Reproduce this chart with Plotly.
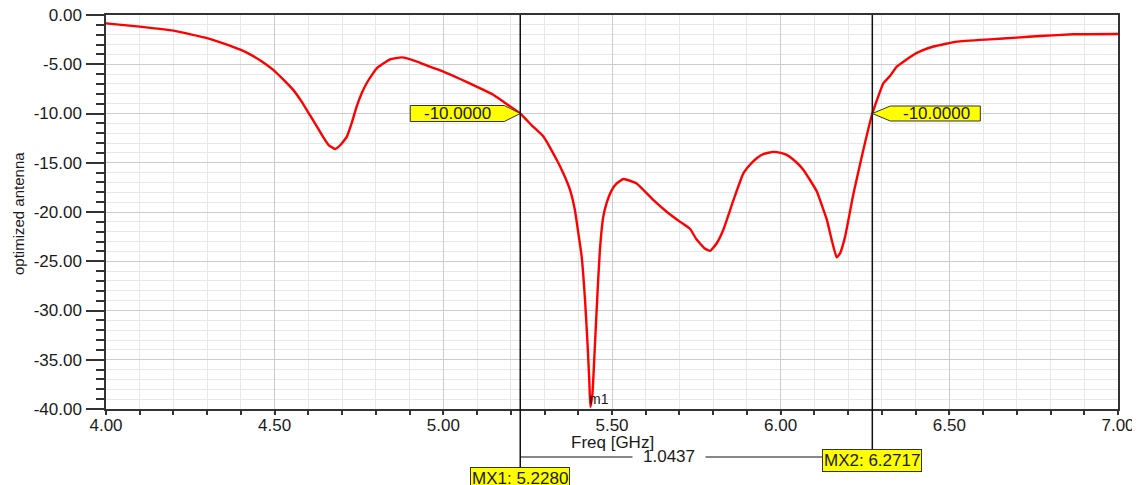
import plotly.graph_objects as go

# ---------------- data ----------------
FREQ_GHZ = [4.00, 4.10, 4.20, 4.30, 4.35, 4.40, 4.43, 4.4565, 4.50, 4.555, 4.58, 4.605,
            4.625, 4.643, 4.66, 4.679, 4.695, 4.714, 4.728, 4.743, 4.758, 4.773, 4.79,
            4.803, 4.842, 4.877, 4.92, 4.96, 5.00, 5.05, 5.10, 5.148, 5.18, 5.228, 5.262,
            5.297, 5.336, 5.356, 5.376, 5.39, 5.40, 5.41, 5.42, 5.428, 5.433, 5.436, 5.442,
            5.448, 5.456, 5.464, 5.474, 5.484, 5.499, 5.514, 5.534, 5.573, 5.623, 5.662,
            5.702, 5.731, 5.751, 5.775, 5.791, 5.81, 5.83, 5.86, 5.889, 5.909, 5.929, 5.95,
            5.978, 6.00, 6.018, 6.048, 6.067, 6.087, 6.107, 6.127, 6.137, 6.151, 6.166,
            6.176, 6.191, 6.216, 6.245, 6.2717, 6.305, 6.324, 6.344, 6.37, 6.393, 6.42,
            6.453, 6.522, 6.62, 6.70, 6.769, 6.868, 7.00]
S11_DB = [-0.85, -1.18, -1.59, -2.35, -2.9, -3.55, -4.05, -4.6, -5.7, -7.6, -8.8, -10.2,
          -11.3, -12.35, -13.2, -13.6, -13.2, -12.35, -11.0, -9.3, -7.95, -6.9, -6.0,
          -5.4, -4.5, -4.3, -4.7, -5.25, -5.75, -6.5, -7.3, -8.1, -8.85, -10.0, -11.2,
          -12.35, -14.7, -16.1, -17.8, -19.8, -22.1, -24.5, -28.9, -33.7, -37.4, -39.8, -38.5,
          -34.5, -28.9, -23.9, -20.5, -19.1, -17.8, -17.1, -16.65, -17.1, -18.8, -19.97,
          -21.0, -21.7, -22.8, -23.7, -23.95, -23.2, -21.8, -18.8, -16.1, -15.2, -14.55, -14.1,
          -13.9, -14.0, -14.2, -15.0, -15.7, -16.75, -17.9, -19.8, -20.8, -22.8, -24.6,
          -24.2, -22.5, -18.1, -13.7, -10.0, -6.9, -6.2, -5.25, -4.6, -4.06, -3.6,
          -3.2, -2.7, -2.47, -2.3, -2.13, -1.96, -1.93]

X_TICKS = [4.00, 4.50, 5.00, 5.50, 6.00, 6.50, 7.00]
Y_TICKS = [0.00, -5.00, -10.00, -15.00, -20.00, -25.00, -30.00, -35.00, -40.00]

MARKER_X = [5.2280, 6.2717]          # MX1, MX2
MARKER_NAMES = ["MX1", "MX2"]
MARKER_LEVEL = -10.0
DELTA_X = 1.0437
M1_POINT = (5.436, -39.8)

# ---------------- figure ----------------
FONT = "Liberation Sans, Arial, sans-serif"
TXT = "#1a1a1a"
FS = 17

fig = go.Figure()
fig.add_trace(go.Scatter(x=FREQ_GHZ, y=S11_DB, mode="lines",
                         line=dict(color="#ff0000", width=2.4, shape="spline", smoothing=0.4),
                         hoverinfo="x+y", showlegend=False))

# page body has an 8px margin; the plot area sits at window px x 106..1118, y 15..409
PLOT_H = 394


def py2paper(py):
    return (409 - py) / PLOT_H


shapes = []
for xv in X_TICKS:
    shapes.append(dict(type="line", xref="x", yref="paper", x0=xv, x1=xv,
                       y0=0, y1=-6 / PLOT_H, line=dict(color="#333333", width=1.5)))
shapes.append(dict(type="line", xref="x", yref="paper", x0=MARKER_X[0], x1=MARKER_X[0],
                   y0=1, y1=py2paper(467), line=dict(color="#111111", width=1.5), layer="above"))
shapes.append(dict(type="line", xref="x", yref="paper", x0=MARKER_X[1], x1=MARKER_X[1],
                   y0=1, y1=py2paper(449), line=dict(color="#111111", width=1.5), layer="above"))
shapes.append(dict(type="line", xref="x", yref="paper", x0=MARKER_X[0], x1=MARKER_X[1],
                   y0=py2paper(457), y1=py2paper(457), line=dict(color="#111111", width=1),
                   layer="above"))
shapes.append(dict(type="path", xref="x", yref="y", xsizemode="pixel", ysizemode="pixel",
                   xanchor=MARKER_X[0], yanchor=MARKER_LEVEL,
                   path="M -110,-8 L -16,-8 L 0,0 L -16,8 L -110,8 Z",
                   fillcolor="#ffff00", line=dict(color="#333333", width=1), layer="above"))
shapes.append(dict(type="path", xref="x", yref="y", xsizemode="pixel", ysizemode="pixel",
                   xanchor=MARKER_X[1], yanchor=MARKER_LEVEL,
                   path="M 0,0 L 18,-7.5 L 108,-7.5 L 108,7.5 L 18,7.5 Z",
                   fillcolor="#ffff00", line=dict(color="#333333", width=1), layer="above"))

annotations = []
annotations.append(dict(x=MARKER_X[0], y=MARKER_LEVEL, xref="x", yref="y", xshift=-63,
                        text=f"{MARKER_LEVEL:.4f}", showarrow=False,
                        font=dict(family=FONT, size=FS, color=TXT)))
annotations.append(dict(x=MARKER_X[1], y=MARKER_LEVEL, xref="x", yref="y", xshift=64,
                        text=f"{MARKER_LEVEL:.4f}", showarrow=False,
                        font=dict(family=FONT, size=FS, color=TXT)))
annotations.append(dict(x=MARKER_X[0], y=py2paper(467), xref="x", yref="paper",
                        xanchor="center", yanchor="top",
                        text=f"{MARKER_NAMES[0]}: {MARKER_X[0]:.4f}", showarrow=False,
                        bgcolor="#ffff00", bordercolor="#333333", borderwidth=1, borderpad=1,
                        font=dict(family=FONT, size=FS, color=TXT)))
annotations.append(dict(x=MARKER_X[1], y=py2paper(449), xref="x", yref="paper",
                        xanchor="center", yanchor="top",
                        text=f"{MARKER_NAMES[1]}: {MARKER_X[1]:.4f}", showarrow=False,
                        bgcolor="#ffff00", bordercolor="#333333", borderwidth=1, borderpad=1,
                        font=dict(family=FONT, size=FS, color=TXT)))
annotations.append(dict(x=(MARKER_X[0] + MARKER_X[1]) / 2, y=py2paper(457), xref="x",
                        yref="paper", text=f"{DELTA_X:.4f}", showarrow=False, xshift=-27,
                        bgcolor="#ffffff", borderpad=0, xanchor="center", yanchor="middle",
                        font=dict(family=FONT, size=FS, color=TXT),
                        width=72, align="center"))
annotations.append(dict(x=M1_POINT[0], y=M1_POINT[1], xref="x", yref="y",
                        xanchor="left", yanchor="bottom", xshift=-3, yshift=-2,
                        text="m1", showarrow=False,
                        font=dict(family=FONT, size=14, color=TXT)))
annotations.append(dict(x=0.5, y=py2paper(442), xref="paper", yref="paper",
                        text="Freq [GHz]", showarrow=False, yanchor="middle",
                        font=dict(family=FONT, size=FS, color=TXT)))
annotations.append(dict(x=(18 - 106) / 1012, y=py2paper(214), xref="paper", yref="paper",
                        text="optimized antenna", showarrow=False, textangle=-90,
                        xanchor="center", yanchor="middle",
                        font=dict(family=FONT, size=15, color=TXT)))

fig.update_layout(
    width=1132, height=477,
    margin=dict(l=98, r=22, t=7, b=76, autoexpand=False),
    paper_bgcolor="white", plot_bgcolor="white",
    font=dict(family=FONT, size=FS, color=TXT),
    shapes=shapes, annotations=annotations,
    showlegend=False,
    xaxis=dict(range=[4, 7], tickvals=X_TICKS, ticktext=[f"{v:.2f}" for v in X_TICKS],
               automargin=False, ticklabeloverflow="allow",
               ticks="outside", ticklen=0, tickwidth=1.5, tickcolor="#333333",
               showline=True, linecolor="#333333", linewidth=1.5, mirror=True,
               showgrid=True, gridcolor="#cccccc", gridwidth=1, zeroline=False,
               tickfont=dict(family=FONT, size=FS, color=TXT),
               minor=dict(dtick=0.1, tick0=4, ticks="outside", ticklen=4, tickwidth=1.5,
                          tickcolor="#333333", showgrid=True, gridcolor="#e8e8e8",
                          gridwidth=1)),
    yaxis=dict(range=[-40, 0], tickvals=Y_TICKS, ticktext=[f"{v:.2f}" for v in Y_TICKS],
               automargin=False, ticklabelstandoff=1, ticklabeloverflow="allow",
               ticks="outside", ticklen=18, tickwidth=1.5, tickcolor="#333333",
               showline=True, linecolor="#333333", linewidth=1.5, mirror=True,
               showgrid=True, gridcolor="#cccccc", gridwidth=1, zeroline=False,
               tickfont=dict(family=FONT, size=FS, color=TXT),
               minor=dict(dtick=1, tick0=0, ticks="outside", ticklen=8, tickwidth=1.5,
                          tickcolor="#333333", showgrid=True, gridcolor="#e8e8e8",
                          gridwidth=1)),
)

fig.write_html("out.html")
